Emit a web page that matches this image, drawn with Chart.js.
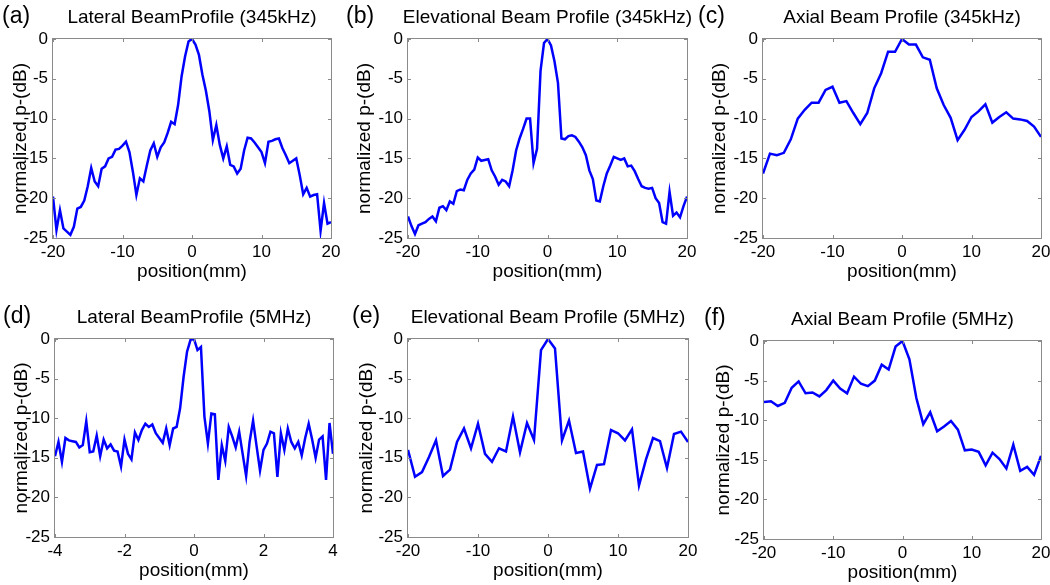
<!DOCTYPE html>
<html>
<head>
<meta charset="utf-8">
<script src="https://cdn.jsdelivr.net/npm/chart.js@4.4.1/dist/chart.umd.min.js"></script>
<style>
  body { margin: 0; background: #fff; }
  #fig { position: relative; width: 1050px; height: 585px; overflow: hidden; background: #fff; }
  #fig canvas { position: absolute; }
</style>
</head>
<body>
<div id="fig">
  <canvas id="pa"></canvas>
  <canvas id="pb"></canvas>
  <canvas id="pc"></canvas>
  <canvas id="pd"></canvas>
  <canvas id="pe"></canvas>
  <canvas id="pf"></canvas>
</div>
<script>
// positions (mm)
const pos05 = [-20, -19.5, -19, -18.5, -18, -17.5, -17, -16.5, -16, -15.5, -15, -14.5, -14, -13.5, -13, -12.5,
  -12, -11.5, -11, -10.5, -10, -9.5, -9, -8.5, -8, -7.5, -7, -6.5, -6, -5.5, -5, -4.5, -4, -3.5, -3, -2.5,
  -2, -1.5, -1, -0.5, 0, 0.5, 1, 1.5, 2, 2.5, 3, 3.5, 4, 4.5, 5, 5.5, 6, 6.5, 7, 7.5, 8, 8.5, 9, 9.5, 10,
  10.5, 11, 11.5, 12, 12.5, 13, 13.5, 14, 14.5, 15, 15.5, 16, 16.5, 17, 17.5, 18, 18.5, 19, 19.5, 20];
const pos1 = [-20, -19, -18, -17, -16, -15, -14, -13, -12, -11, -10, -9, -8, -7, -6, -5, -4, -3, -2, -1, 0,
  1, 2, 3, 4, 5, 6, 7, 8, 9, 10, 11, 12, 13, 14, 15, 16, 17, 18, 19, 20];
const posD = [-4, -3.9, -3.8, -3.7, -3.6, -3.5, -3.4, -3.3, -3.2, -3.1, -3, -2.9, -2.8, -2.7, -2.6, -2.5,
  -2.4, -2.3, -2.2, -2.1, -2, -1.9, -1.8, -1.7, -1.6, -1.5, -1.4, -1.3, -1.2, -1.1, -1, -0.9, -0.8, -0.7,
  -0.6, -0.5, -0.4, -0.3, -0.2, -0.1, 0, 0.1, 0.2, 0.3, 0.4, 0.5, 0.6, 0.7, 0.8, 0.9, 1, 1.1, 1.2, 1.3,
  1.4, 1.5, 1.6, 1.7, 1.8, 1.9, 2, 2.1, 2.2, 2.3, 2.4, 2.5, 2.6, 2.7, 2.8, 2.9, 3, 3.1, 3.2, 3.3, 3.4,
  3.5, 3.6, 3.7, 3.8, 3.9, 4];

// normalized pressure (dB)
const dbA = [-19.8, -24.0, -21.5, -23.8, -24.2, -24.6, -23.6, -21.3, -21.1, -20.3, -18.5, -16.2, -17.9,
  -18.5, -16.3, -16.0, -15.0, -14.8, -13.9, -13.8, -13.4, -12.9, -14.2, -16.7, -19.6, -17.5, -17.9, -15.9,
  -14.0, -13.1, -14.8, -13.6, -13.0, -11.8, -10.4, -10.7, -8.3, -4.7, -2.2, -0.3, 0, -0.7, -2.0, -4.5,
  -6.5, -9.1, -12.7, -10.8, -13.3, -15.0, -13.5, -15.8, -16.0, -16.9, -16.3, -14.0, -12.4, -12.5, -13.0,
  -13.6, -14.2, -15.6, -12.9, -12.8, -12.6, -12.5, -13.7, -14.6, -15.6, -15.3, -15.0, -17.1, -19.5,
  -18.7, -19.8, -19.6, -19.5, -24.1, -20.6, -23.2, -23.0];
const dbB = [-22.3, -23.5, -24.5, -23.4, -23.2, -23.0, -22.6, -22.3, -22.9, -21.2, -21.0, -21.5, -20.4,
  -20.7, -19.1, -18.9, -19.0, -17.7, -16.9, -16.4, -14.9, -15.3, -15.2, -15.1, -16.5, -17.3, -18.3, -17.7,
  -17.9, -18.5, -16.5, -14.0, -12.5, -11.3, -10.0, -10.0, -15.6, -13.8, -4.0, -0.5, 0, -0.8, -2.8, -5.5,
  -12.5, -12.6, -12.2, -12.1, -12.3, -12.9, -13.6, -14.6, -16.5, -17.6, -20.3, -20.4, -18.5, -16.9, -15.9,
  -14.8, -15.0, -15.2, -15.0, -16.0, -15.9, -16.6, -17.6, -18.5, -18.7, -18.8, -18.7, -20.0, -20.6,
  -23.0, -23.2, -19.2, -22.2, -21.8, -22.4, -21.0, -19.8];
const dbC = [-16.9, -14.4, -14.6, -14.3, -12.6, -10.0, -8.9, -8.0, -8.0, -6.4, -6.0, -8.0, -7.8, -9.3,
  -10.7, -9.3, -6.2, -4.3, -1.6, -1.6, 0, -0.7, -0.7, -2.3, -2.6, -6.2, -8.3, -9.9, -12.7, -11.4, -9.8,
  -9.1, -8.2, -10.5, -9.8, -9.2, -10.0, -10.1, -10.3, -11.0, -12.3];
const dbD = [-14.8, -13.0, -15.5, -12.5, -12.8, -12.9, -13.0, -13.7, -13.4, -10.4, -14.3, -14.2, -12.2,
  -14.8, -12.7, -13.8, -13.3, -14.1, -14.2, -16.1, -12.7, -14.5, -15.2, -11.8, -12.75, -11.5, -10.7, -11.1,
  -10.8, -11.9, -12.5, -13.1, -11.3, -13.4, -11.3, -11.1, -8.75, -4.8, -1.6, -0.1, 0, -1.4, -1.0, -9.8,
  -13.2, -9.4, -9.5, -17.8, -13.4, -15.4, -11.1, -12.3, -13.7, -11.7, -14.5, -17.3, -13.0, -10.3, -13.5,
  -16.6, -14.0, -13.2, -11.7, -11.9, -17.4, -11.9, -14.0, -11.3, -13.0, -13.8, -13.0, -14.7, -12.5, -10.7,
  -12.7, -15.0, -12.7, -12.3, -17.8, -10.6, -14.5];
const dbE = [-14.0, -17.4, -16.8, -14.9, -12.8, -17.3, -16.5, -13.0, -11.3, -13.8, -10.7, -14.5, -15.5,
  -13.8, -14.2, -9.8, -14.3, -10.6, -12.75, -1.4, 0, -1.2, -12.8, -10.3, -14.4, -14.2, -18.9, -15.9, -15.8,
  -11.5, -11.9, -12.8, -11.4, -18.5, -15.2, -12.5, -12.9, -16.3, -12.0, -11.7, -13.0];
const dbF = [-7.7, -7.6, -8.2, -7.8, -5.9, -5.1, -6.6, -6.5, -7.0, -6.2, -5.0, -6.0, -6.6, -4.5, -5.4,
  -5.7, -5.0, -3.0, -3.6, -0.7, 0, -2.3, -7.2, -10.5, -9.0, -11.4, -10.8, -10.1, -11.2, -13.8, -13.7,
  -14.0, -15.7, -14.1, -14.9, -16.1, -13.1, -16.4, -15.9, -16.9, -14.5];

// tick labels
const dbTicks = [0, -5, -10, -15, -20, -25];
const mmTicks = [-20, -10, 0, 10, 20];
const mmTicksD = [-4, -2, 0, 2, 4];

const fam = "'Liberation Sans', Arial, sans-serif";

// grey box with inward ticks, title and panel tag
const boxPlugin = {
  id: "box",
  afterDraw(chart, args, o) {
    const { ctx, chartArea: a } = chart;
    const sx = chart.scales.x, sy = chart.scales.y;
    ctx.save();
    ctx.strokeStyle = "#8a8a8a";
    ctx.lineWidth = 1;
    ctx.strokeRect(a.left - 0.5, a.top - 0.5, a.right - a.left + 1, a.bottom - a.top + 1);
    ctx.beginPath();
    sx.ticks.forEach(t => {
      const p = Math.round(sx.getPixelForValue(t.value)) + 0.5;
      ctx.moveTo(p, a.top); ctx.lineTo(p, a.top + 3);
      ctx.moveTo(p, a.bottom); ctx.lineTo(p, a.bottom - 3);
    });
    sy.ticks.forEach(t => {
      const p = Math.round(sy.getPixelForValue(t.value)) + 0.5;
      ctx.moveTo(a.left, p); ctx.lineTo(a.left + 3, p);
      ctx.moveTo(a.right, p); ctx.lineTo(a.right - 3, p);
    });
    ctx.stroke();
    ctx.fillStyle = "#000";
    ctx.textBaseline = "middle";
    ctx.textAlign = "center";
    ctx.font = "19px " + fam;
    ctx.fillText(o.title, (a.left + a.right) / 2, a.top - 21);
    ctx.textAlign = "left";
    ctx.font = "23px " + fam;
    ctx.fillText(o.tag, o.tagX, a.top - 22);
    ctx.restore();
  }
};

function panel(id, box, pos, vals, xTicks, yTitleX, title, tag, tagX) {
  const cv = document.getElementById(id);
  const left = box.l - 70, top = box.t - 45;
  cv.width = box.r - box.l + 86;
  cv.height = box.b - box.t + 93;
  cv.style.left = left + "px";
  cv.style.top = top + "px";
  new Chart(cv.getContext("2d"), {
    type: "line",
    data: {
      datasets: [{
        data: pos.map((x, i) => ({ x: x, y: vals[i] })),
        borderColor: "#0000ff",
        borderWidth: 2.5,
        pointRadius: 0,
        tension: 0,
        fill: false,
      }],
    },
    options: {
      responsive: false,
      animation: false,
      events: [],
      layout: { padding: { left: 0, top: 45, right: 16, bottom: 0 } },
      plugins: {
        legend: { display: false },
        tooltip: { enabled: false },
        box: { title: title, tag: tag, tagX: tagX - left },
      },
      scales: {
        x: {
          type: "linear",
          min: xTicks[0],
          max: xTicks[xTicks.length - 1],
          afterFit: s => { s.height = 48; },
          afterBuildTicks: s => { s.ticks = xTicks.map(v => ({ value: v })); },
          grid: { display: false, drawTicks: false },
          border: { display: false },
          ticks: { color: "#000", font: { family: fam, size: 17 }, padding: 4, maxRotation: 0, autoSkip: false, callback: v => String(v) },
          title: { display: true, text: "position(mm)", color: "#000", font: { family: fam, size: 19 }, padding: { top: 0, bottom: 3 } },
        },
        y: {
          type: "linear",
          min: -25,
          max: 0,
          afterFit: s => { s.width = 70; },
          afterBuildTicks: s => { s.ticks = dbTicks.map(v => ({ value: v })); },
          grid: { display: false, drawTicks: false },
          border: { display: false },
          ticks: { color: "#000", font: { family: fam, size: 17 }, padding: 5, callback: v => String(v) },
          title: { display: true, text: "normalized p-(dB)", color: "#000", font: { family: fam, size: 19 }, padding: { top: yTitleX - left - 11.4, bottom: 0 } },
        },
      },
    },
    plugins: [boxPlugin],
  });
}

panel("pa", { l: 53, t: 39, r: 331, b: 238 }, pos05, dbA, mmTicks, 21, "Lateral BeamProfile (345kHz)", "(a)", 2);
panel("pb", { l: 408, t: 39, r: 687, b: 238 }, pos05, dbB, mmTicks, 365, "Elevational Beam Profile (345kHz)", "(b)", 346);
panel("pc", { l: 763, t: 39, r: 1041, b: 238 }, pos1, dbC, mmTicks, 720, "Axial Beam Profile (345kHz)", "(c)", 698);
panel("pd", { l: 55, t: 339, r: 333, b: 537 }, posD, dbD, mmTicksD, 22, "Lateral BeamProfile (5MHz)", "(d)", 3);
panel("pe", { l: 408, t: 339, r: 688, b: 537 }, pos1, dbE, mmTicks, 367, "Elevational Beam Profile (5MHz)", "(e)", 352);
panel("pf", { l: 764, t: 341, r: 1041, b: 539 }, pos1, dbF, mmTicks, 724, "Axial Beam Profile (5MHz)", "(f)", 704);
</script>
</body>
</html>
